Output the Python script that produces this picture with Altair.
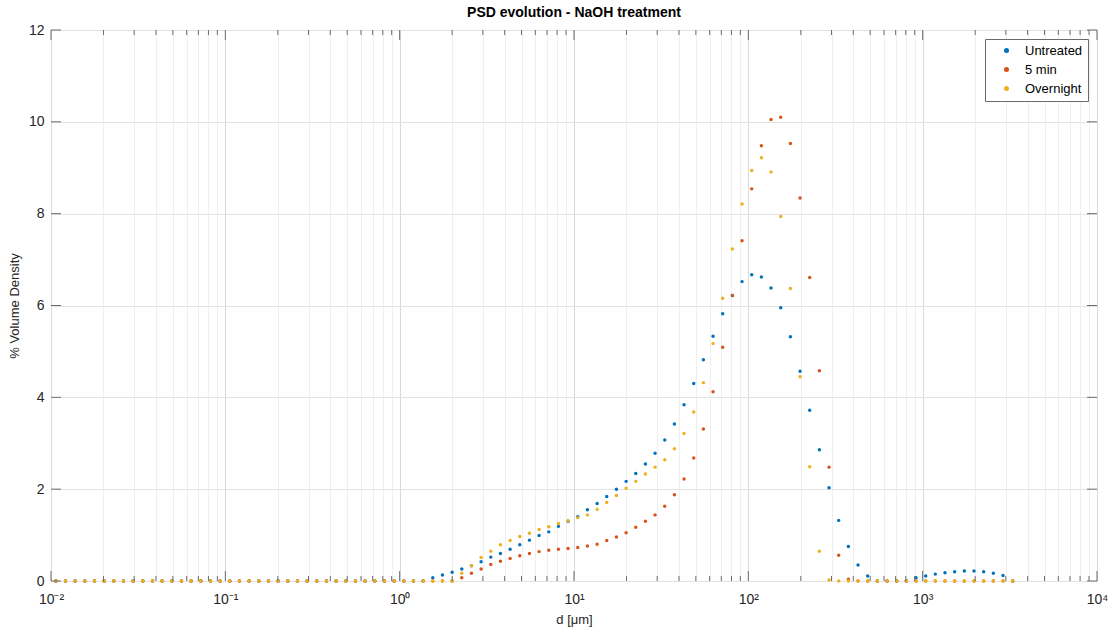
import altair as alt
import pandas as pd

# Particle size class centres (um)
d_um = [
    0.01066, 0.01211, 0.01376, 0.01563, 0.01776, 0.02018, 0.02293, 0.02605, 0.02960, 0.03363,
    0.03821, 0.04341, 0.04932, 0.05604, 0.06367, 0.07234, 0.08219, 0.09338, 0.1061, 0.1205,
    0.1369, 0.1556, 0.1768, 0.2009, 0.2282, 0.2593, 0.2946, 0.3347, 0.3803, 0.4321,
    0.4909, 0.5578, 0.6337, 0.7200, 0.8181, 0.9293, 1.056, 1.200, 1.363, 1.549,
    1.760, 2.000, 2.272, 2.581, 2.932, 3.332, 3.785, 4.301, 4.886, 5.552,
    6.308, 7.167, 8.143, 9.250, 10.51, 11.94, 13.57, 15.41, 17.51, 19.90,
    22.61, 25.68, 29.17, 33.15, 37.66, 42.79, 48.62, 55.24, 62.76, 71.30,
    81.01, 92.05, 104.6, 118.8, 135.0, 153.4, 174.3, 198.0, 224.9, 255.6,
    290.4, 329.9, 374.8, 425.9, 483.9, 549.8, 624.6, 709.6, 806.3, 916.1,
    1041, 1182, 1343, 1526, 1734, 1970, 2238, 2543, 2890, 3283,
]

untreated = [
    0, 0, 0, 0, 0, 0, 0, 0, 0, 0,
    0, 0, 0, 0, 0, 0, 0, 0, 0, 0,
    0, 0, 0, 0, 0, 0, 0, 0, 0, 0,
    0, 0, 0, 0, 0, 0, 0, 0, 0, 0.07,
    0.13, 0.19, 0.26, 0.33, 0.42, 0.52, 0.60, 0.69, 0.79, 0.89,
    0.99, 1.07, 1.19, 1.30, 1.40, 1.55, 1.69, 1.84, 2.00, 2.17,
    2.34, 2.55, 2.78, 3.07, 3.42, 3.84, 4.30, 4.82, 5.33, 5.82,
    6.22, 6.52, 6.67, 6.62, 6.38, 5.95, 5.32, 4.57, 3.72, 2.86,
    2.03, 1.32, 0.75, 0.35, 0.11, 0, 0, 0, 0, 0.07,
    0.11, 0.15, 0.18, 0.20, 0.22, 0.22, 0.20, 0.17, 0.12, 0,
]

five_min = [
    0, 0, 0, 0, 0, 0, 0, 0, 0, 0,
    0, 0, 0, 0, 0, 0, 0, 0, 0, 0,
    0, 0, 0, 0, 0, 0, 0, 0, 0, 0,
    0, 0, 0, 0, 0, 0, 0, 0, 0, 0,
    0, 0, 0.07, 0.17, 0.26, 0.36, 0.43, 0.49, 0.55, 0.60,
    0.64, 0.67, 0.69, 0.71, 0.73, 0.76, 0.80, 0.88, 0.96, 1.05,
    1.17, 1.30, 1.44, 1.63, 1.88, 2.22, 2.68, 3.31, 4.12, 5.09,
    6.22, 7.41, 8.54, 9.48, 10.05, 10.10, 9.53, 8.34, 6.61, 4.58,
    2.48, 0.56, 0.04, 0, 0, 0, 0, 0, 0, 0,
    0, 0, 0, 0, 0, 0, 0, 0, 0, 0,
]

overnight = [
    0, 0, 0, 0, 0, 0, 0, 0, 0, 0,
    0, 0, 0, 0, 0, 0, 0, 0, 0, 0,
    0, 0, 0, 0, 0, 0, 0, 0, 0, 0,
    0, 0, 0, 0, 0, 0, 0, 0, 0, 0,
    0, 0, 0.17, 0.33, 0.51, 0.65, 0.79, 0.88, 0.97, 1.04,
    1.12, 1.18, 1.25, 1.31, 1.38, 1.44, 1.56, 1.71, 1.86, 2.02,
    2.17, 2.33, 2.48, 2.64, 2.88, 3.21, 3.68, 4.32, 5.17, 6.16,
    7.23, 8.21, 8.94, 9.22, 8.91, 7.94, 6.37, 4.45, 2.49, 0.65,
    0.02, 0, 0, 0, 0, 0, 0, 0, 0, 0,
    0, 0, 0, 0, 0, 0, 0, 0, 0, 0,
]

series_names = ["Untreated", "5 min", "Overnight"]
series_colors = ["#0072BD", "#D95319", "#EDB120"]

major_x = [0.01, 0.1, 1, 10, 100, 1000, 10000]
major_x_labels = ["10⁻²", "10⁻¹", "10⁰", "10¹", "10²", "10³", "10⁴"]
minor_x = [
    0.02, 0.03, 0.04, 0.05, 0.06, 0.07, 0.08, 0.09,
    0.2, 0.3, 0.4, 0.5, 0.6, 0.7, 0.8, 0.9,
    2, 3, 4, 5, 6, 7, 8, 9,
    20, 30, 40, 50, 60, 70, 80, 90,
    200, 300, 400, 500, 600, 700, 800, 900,
    2000, 3000, 4000, 5000, 6000, 7000, 8000, 9000,
]
y_ticks = [0, 2, 4, 6, 8, 10, 12]

W, H = 1046, 551
FONT = "Liberation Sans"
AX = "#6b6b6b"
TXT = "#262626"

rows = []
for name, vals in zip(series_names, [untreated, five_min, overnight]):
    for d, v in zip(d_um, vals):
        rows.append({"d": d, "v": v, "series": name})
df = pd.DataFrame(rows)

xscale = alt.Scale(type="log", domain=[0.01, 10000], nice=False)
yscale = alt.Scale(domain=[0, 12], nice=False, zero=False)

label_expr = " : ".join(
    f"datum.value == {v} ? '{l}'" for v, l in zip(major_x, major_x_labels)
) + " : ''"
major_test = " || ".join(f"datum.value == {v}" for v in major_x)

common_axis = dict(
    labelFont=FONT,
    titleFont=FONT,
    labelFontSize=14,
    titleFontSize=13,
    labelColor=TXT,
    titleColor=TXT,
    titleFontWeight="normal",
    tickSize=0,
    domain=False,
    grid=True,
)

x_axis = alt.Axis(
    title="d [μm]",
    values=major_x + minor_x,
    labelExpr=label_expr,
    labelOverlap=False,
    labelFlush=False,
    gridColor=alt.condition(major_test, alt.value("#d9d9d9"), alt.value("#efefef")),
    labelPadding=11,
    titlePadding=7,
    **common_axis,
)
y_axis = alt.Axis(
    title="% Volume Density",
    values=y_ticks,
    gridColor="#e3e3e3",
    labelPadding=7,
    titlePadding=7,
    **common_axis,
)

points = alt.Chart(df).mark_circle(size=12, opacity=1).encode(
    x=alt.X("d:Q", scale=xscale, axis=x_axis),
    y=alt.Y("v:Q", scale=yscale, axis=y_axis),
    color=alt.Color(
        "series:N",
        scale=alt.Scale(domain=series_names, range=series_colors),
        sort=series_names,
        legend=alt.Legend(
            title=None,
            orient="top-right",
            offset=9,
            strokeColor=AX,
            fillColor="white",
            padding=5,
            labelFontSize=13,
            labelFont=FONT,
            labelColor="#000000",
            symbolSize=25,
            symbolType="circle",
            rowPadding=5,
            labelOffset=12,
            symbolOffset=10,
        ),
    ),
)

maj_df = pd.DataFrame({"d": major_x})
min_df = pd.DataFrame({"d": minor_x})
yt_df = pd.DataFrame({"v": y_ticks})

def xticks(data, length, top):
    y0 = 0 if top else H
    y1 = length if top else H - length
    return alt.Chart(data).mark_rule(color=AX, strokeWidth=1).encode(
        x=alt.X("d:Q", scale=xscale, axis=x_axis),
        y=alt.value(y0),
        y2=alt.value(y1),
    )

def yticks(left):
    x0 = 0 if left else W
    x1 = 10 if left else W - 10
    return alt.Chart(yt_df).mark_rule(color=AX, strokeWidth=1).encode(
        y=alt.Y("v:Q", scale=yscale, axis=y_axis),
        x=alt.value(x0),
        x2=alt.value(x1),
    )

chart = alt.layer(
    points,
    xticks(maj_df, 10, False),
    xticks(min_df, 5, False),
    xticks(maj_df, 10, True),
    xticks(min_df, 5, True),
    yticks(True),
    yticks(False),
).properties(
    width=W,
    height=H,
    autosize=alt.AutoSizeParams(type="none"),
    padding={"left": 51, "top": 30, "right": 21, "bottom": 54},
    title=alt.TitleParams(
        "PSD evolution - NaOH treatment",
        fontSize=14,
        fontWeight="bold",
        font=FONT,
        color="#000000",
        offset=3,
        anchor="middle",
    ),
).configure_view(
    stroke=AX, strokeWidth=1
).configure(background="white")

chart.save("out.html", embed_options={"renderer": "svg", "actions": False})
